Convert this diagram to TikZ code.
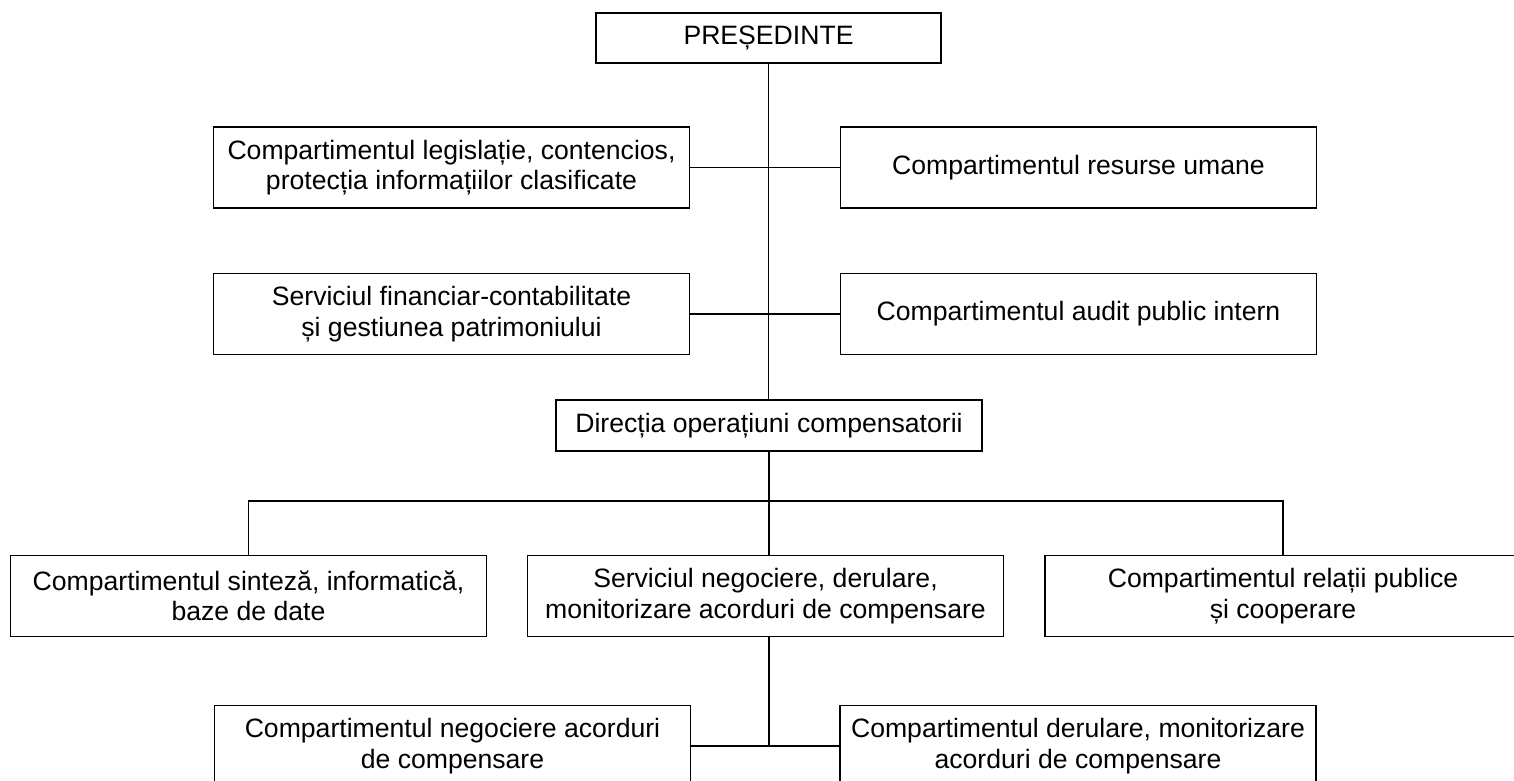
\documentclass[tikz,border=0pt]{standalone}
\usepackage{fontspec}
\setmainfont{Liberation Sans}
\begin{document}
\begin{tikzpicture}[x=1pt,y=-1pt,line width=1.5pt]

      \useasboundingbox (0,0) rectangle (1514,781);
      \clip (0,0) rectangle (1514,781);

      \begin{scope}[every node/.style={rectangle,draw,align=center,inner sep=0pt,
          minimum width=476pt,minimum height=81pt,font=\fontsize{26.6}{30.5}\selectfont}]
        \node[minimum width=345pt,minimum height=50pt] (pres) at (768.5,38) {PREȘEDINTE};
        \node (legis)   at (451.5,167.5) {Compartimentul legislație, contencios,\\protecția informațiilor clasificate};
        \node (resurse) at (1078.5,167.5) {Compartimentul resurse umane};
        \node (finan)   at (451.5,314) {Serviciul financiar-contabilitate\\și gestiunea patrimoniului};
        \node (audit)   at (1078.5,314) {Compartimentul audit public intern};
        \node[minimum width=426pt,minimum height=51pt] (dir) at (769,425.5) {Direcția operațiuni compensatorii};
        \node (sint)    at (248.5,596) {Compartimentul sinteză, informatică,\\baze de date};
        \node (serv)    at (765.5,596) {Serviciul negociere, derulare,\\monitorizare acorduri de compensare};
        \node (rel)     at (1283,596) {Compartimentul relații publice\\și cooperare};
        \node (neg)     at (452.5,746) {Compartimentul negociere acorduri\\de compensare};
        \node (derul)   at (1078,746) {Compartimentul derulare, monitorizare\\acorduri de compensare};
      \end{scope}

      \coordinate (bar) at (769,501);
      \coordinate (low) at (769,746);

      \begin{scope}[every edge/.style={draw}]
        \path (pres.south) edge (pres.south |- dir.north);
        \path (legis)  edge (resurse);
        \path (finan)  edge (audit);
        \path (dir.south) edge (dir.south |- serv.north);
        \path (low |- serv.south) edge (low);
        \path (neg)    edge (derul);
      \end{scope}
      \draw (sint.north) |- (bar) -| (rel.north);

    \end{tikzpicture}
\end{document}
